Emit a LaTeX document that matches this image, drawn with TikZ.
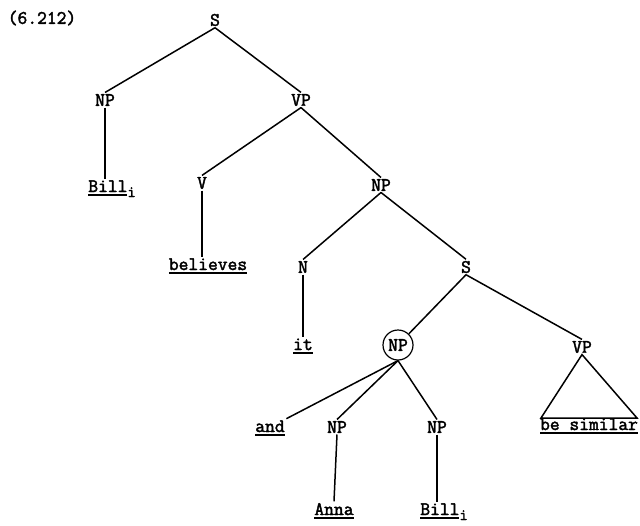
\documentclass[tikz,border=0pt]{standalone}
\usepackage{fontspec}
\setmonofont{Latin Modern Mono}[AutoFakeBold=2.2]
\newcommand{\leafword}[1]{\vtop{\hbox{#1}\kern2pt\hrule height 1.5pt}}
\newcommand{\idx}{\raisebox{-5pt}{\fontsize{16}{16}\selectfont i}}

\begin{document}
\begin{tikzpicture}[x=1pt,y=-1pt,cat/.style={font=\ttfamily\bfseries\fontsize{19}{21}\selectfont, inner sep=1.5pt},leaf/.style={cat, anchor=base},branch/.style={line width=1.5pt}]
\useasboundingbox (0,0) rectangle (640,525);
\node[cat] (num) at (42,18) {(6.212)};
% upper part of the tree
\node[cat] (s) at (215,20) {S};
\node[cat] (np) at (105,100) {NP};
\node[cat] (vp) at (301,100) {VP};
\node[leaf] (bill) at (112,192) {\leafword{Bill}\idx};
\node[cat] (v) at (202,183) {V};
\node[leaf] (believes) at (208,270) {\leafword{believes}};
\node[cat] (npobj) at (381,185) {NP};
\node[cat] (n) at (303,267) {N};
\node[leaf] (it) at (303,350) {\leafword{it}};
\node[cat] (sub) at (466,267) {S};
\draw[branch] (s.south) -- (np.north); \draw[branch] (s.south) -- (vp.north);
\draw[branch] (np.south) -- (np.south |- bill.north); \draw[branch] (vp.south) -- (v.north);
\draw[branch] (v.south) -- (v.south |- believes.north); \draw[branch] (vp.south) -- (npobj.north);
\draw[branch] (npobj.south) -- (n.north); \draw[branch] (n.south) -- (it.north);
\draw[branch] (npobj.south) -- (sub.north);
% embedded clause
\node[cat, draw, circle, line width=1.2pt, inner sep=0pt, minimum size=30pt] (npc) at (398,345) {NP};
\node[cat] (vpsub) at (582,347) {VP};
\node[leaf] (and) at (270,432) {\leafword{and}};
\node[cat] (npa) at (337,427) {NP};
\node[cat] (npb) at (437,427) {NP};
\node[leaf] (anna) at (334,515) {\leafword{Anna}};
\node[leaf] (billb) at (444,515) {\leafword{Bill}\idx};
\node[leaf] (similar) at (589,430) {\leafword{be similar}};
\coordinate (triL) at (541,418); \coordinate (triR) at (637,418);
\draw[branch] (sub.south) -- (npc); \draw[branch] (sub.south) -- (vpsub.north);
\draw[branch] (npc.south) -- (and.north east); \draw[branch] (npc.south) -- (npa.north);
\draw[branch] (npc.south) -- (npb.north); \draw[branch] (npa.south) -- (anna.north);
\draw[branch] (npb.south) -- (npb.south |- billb.north);
\draw[branch] (vpsub.south) -- (triL) -- (triR) -- cycle;
\end{tikzpicture}
\end{document}
